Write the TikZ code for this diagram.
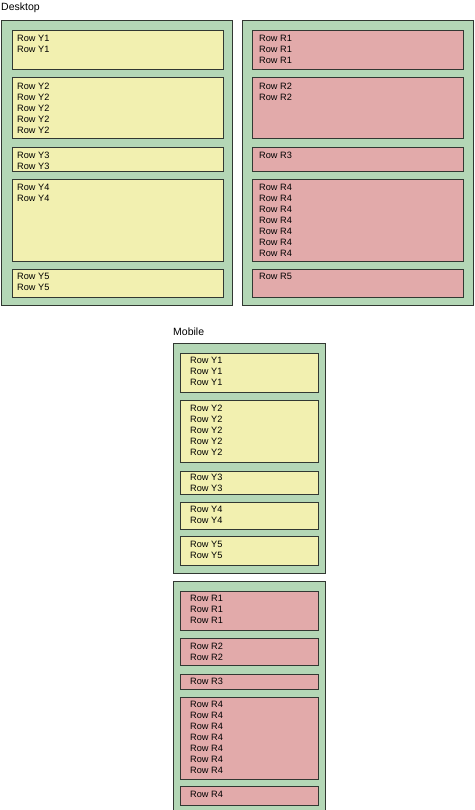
\documentclass[tikz,border=0pt]{standalone}
\usepackage{fontspec}
\setmainfont{Liberation Sans}
\usetikzlibrary{positioning}
\definecolor{panelgreen}{RGB}{180,215,182}
\definecolor{rowyellow}{RGB}{242,240,176}
\definecolor{rowred}{RGB}{226,170,170}
\definecolor{edgegray}{RGB}{50,56,50}

\begin{document}
\begin{tikzpicture}[x=1pt,y=-1pt,
	panel/.style={draw=edgegray,fill=panelgreen,line width=1pt},
	yrow/.style={draw=edgegray,fill=rowyellow,line width=1pt},
	rrow/.style={draw=edgegray,fill=rowred,line width=1pt},
	rowtext/.style={anchor=north west,inner sep=0pt,align=left,font=\fontsize{9.2}{11}\selectfont},
	title/.style={anchor=base west,inner sep=0pt,font=\fontsize{10.5}{12}\selectfont}]
		\useasboundingbox (0,0) rectangle (474,810);
		
		% desktop
		\node[title] (desktop) at (1,11) {Desktop};
		\draw[panel] (1,21) rectangle (232,305);
		\draw[panel] (242,21) rectangle (473,305);
		
		% desktop, yellow column
		\draw[yrow] (12,31) rectangle (223,70);
		\node[rowtext] (dy1) at (17,35) {Row Y1\\Row Y1};
		\draw[yrow] (12,78) rectangle (223,139);
		\node[rowtext] (dy2) at (17,83) {Row Y2\\Row Y2\\Row Y2\\Row Y2\\Row Y2};
		\draw[yrow] (12,148) rectangle (223,172);
		\node[rowtext] (dy3) at (17,152) {Row Y3\\Row Y3};
		\draw[yrow] (12,180) rectangle (223,261);
		\node[rowtext] (dy4) at (17,184) {Row Y4\\Row Y4};
		\draw[yrow] (12,269) rectangle (223,297);
		\node[rowtext] (dy5) at (17,273) {Row Y5\\Row Y5};
		
		% desktop, red column
		\draw[rrow] (252,31) rectangle (463,70);
		\node[rowtext] (dr1) at (259,35) {Row R1\\Row R1\\Row R1};
		\draw[rrow] (252,78) rectangle (463,139);
		\node[rowtext] (dr2) at (259,83) {Row R2\\Row R2};
		\draw[rrow] (252,148) rectangle (463,172);
		\node[rowtext] (dr3) at (259,152) {Row R3};
		\draw[rrow] (252,180) rectangle (463,261);
		\node[rowtext] (dr4) at (259,184) {Row R4\\Row R4\\Row R4\\Row R4\\Row R4\\Row R4\\Row R4};
		\draw[rrow] (252,269) rectangle (463,297);
		\node[rowtext] (dr5) at (259,273) {Row R5};
		
		% mobile
		\node[title] (mobile) at (173,335) {Mobile};
		\draw[panel] (173,343) rectangle (325,573);
		\draw[panel] (173,581) rectangle (325,814);
		
		% mobile, yellow rows
		\draw[yrow] (180,353) rectangle (318,392);
		\node[rowtext] (my1) at (190,357) {Row Y1\\Row Y1\\Row Y1};
		\draw[yrow] (180,400) rectangle (318,462);
		\node[rowtext] (my2) at (190,405) {Row Y2\\Row Y2\\Row Y2\\Row Y2\\Row Y2};
		\draw[yrow] (180,471) rectangle (318,494);
		\node[rowtext] (my3) at (190,474) {Row Y3\\Row Y3};
		\draw[yrow] (180,502) rectangle (318,529);
		\node[rowtext] (my4) at (190,506) {Row Y4\\Row Y4};
		\draw[yrow] (180,536) rectangle (318,565);
		\node[rowtext] (my5) at (190,541) {Row Y5\\Row Y5};
		
		% mobile, red rows
		\draw[rrow] (180,591) rectangle (318,630);
		\node[rowtext] (mr1) at (190,595) {Row R1\\Row R1\\Row R1};
		\draw[rrow] (180,638) rectangle (318,665);
		\node[rowtext] (mr2) at (190,643) {Row R2\\Row R2};
		\draw[rrow] (180,674) rectangle (318,689);
		\node[rowtext] (mr3) at (190,678) {Row R3};
		\draw[rrow] (180,697) rectangle (318,779);
		\node[rowtext] (mr4) at (190,701) {Row R4\\Row R4\\Row R4\\Row R4\\Row R4\\Row R4\\Row R4};
		\draw[rrow] (180,786) rectangle (318,805);
		\node[rowtext] (mr5) at (190,791) {Row R4};
		
\end{tikzpicture}
\end{document}
